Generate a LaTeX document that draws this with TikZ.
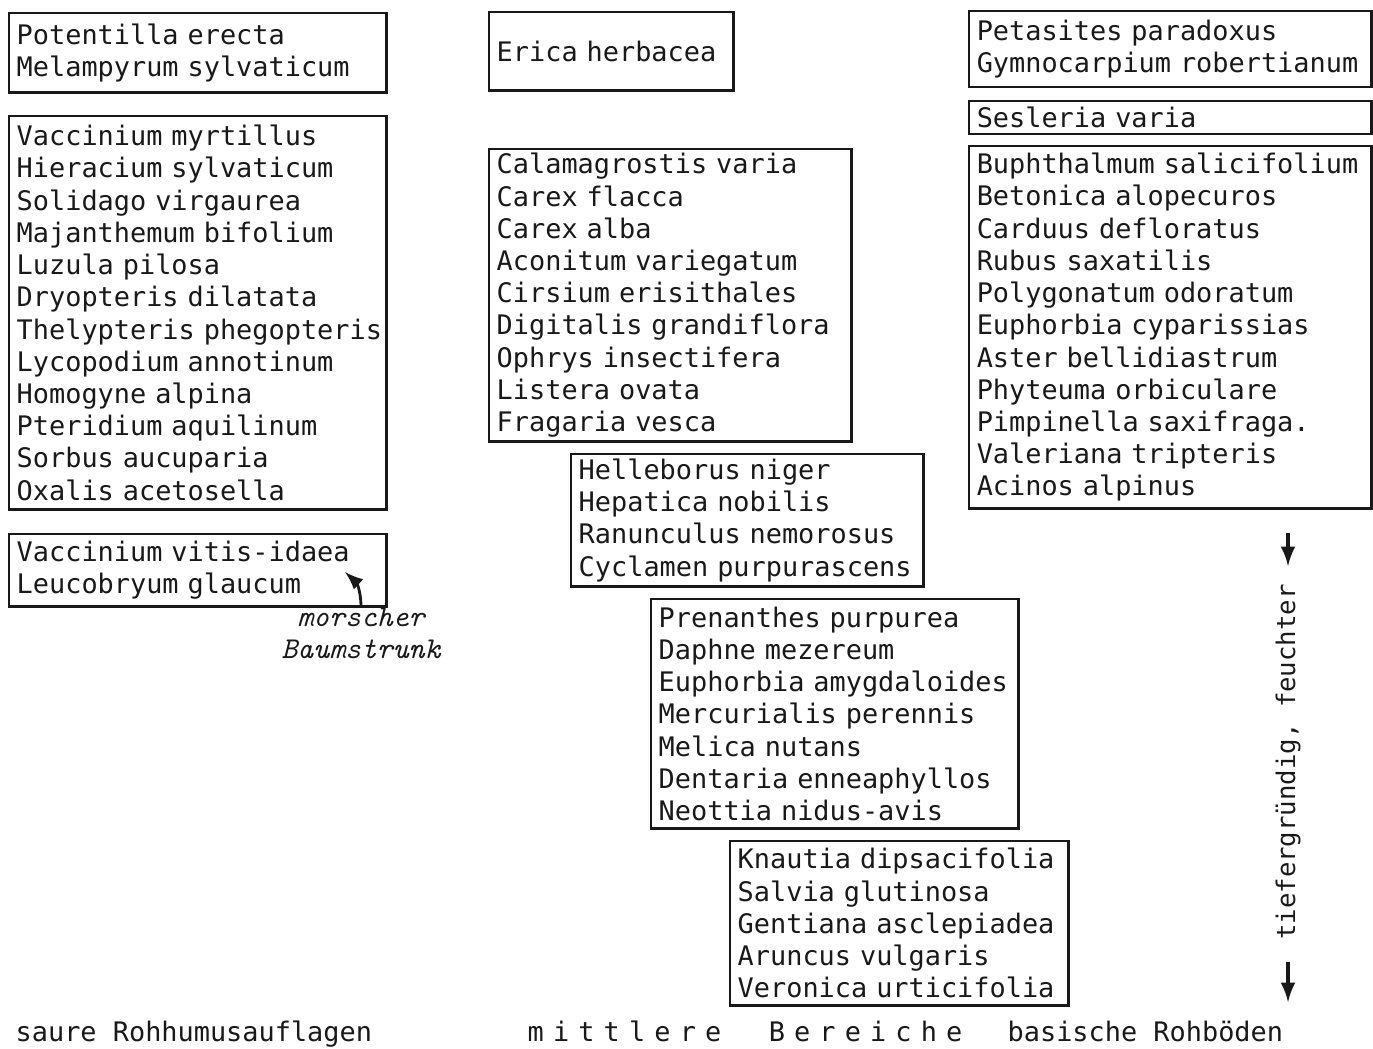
\documentclass[tikz,border=0pt]{standalone}
\usepackage{fontspec}
\usepackage{tikz}
\usetikzlibrary{arrows}
\newfontfamily\typewriter{DejaVu Sans Mono}
\newcommand\plantfont{\typewriter\fontsize{7.65}{9.16}\selectfont}
\colorlet{ink}{black!90}

\begin{document}
\begin{tikzpicture}[x=0.01cm,y=-0.01cm,
  pbox/.style 2 args={draw=ink,line width=0.7pt,anchor=north west,
    inner xsep=0pt,inner ysep=0pt,align=left,font=\plantfont,text=ink,
    text width=#1,minimum width=#1,minimum height=#2,
    execute at begin node={\leftskip=0.075cm\rightskip=0pt plus 1fil minus 1cm}},
  foot/.style={anchor=base west,inner sep=0pt,font=\plantfont,text=ink}]
\useasboundingbox (0,0) rectangle (1373,1049);
% saure Seite
\node[pbox={3.77cm}{0.79cm}] (potentilla) at (8,12) {Potentilla erecta\\Melampyrum sylvaticum};
\node[pbox={3.77cm}{3.93cm}] (vaccinium) at (8,115) {Vaccinium myrtillus\\Hieracium sylvaticum\\Solidago virgaurea\\Majanthemum bifolium\\Luzula pilosa\\Dryopteris dilatata\\Thelypteris phegopteris\\Lycopodium annotinum\\Homogyne alpina\\Pteridium aquilinum\\Sorbus aucuparia\\Oxalis acetosella};
\node[pbox={3.77cm}{0.72cm}] (vitis) at (8,533) {Vaccinium vitis-idaea\\Leucobryum glaucum};
\node[inner sep=0pt,align=center,text=ink,font=\ttfamily\itshape\fontsize{8.6}{9.1}\selectfont] (stump) at (361,633) {morscher\\Baumstrunk};
\coordinate (stumpend) at (345,572);
\draw[-latex,ink,line width=0.8pt] (stump.north) .. controls (361,590) and (356,582) .. (stumpend);
% mittlere Bereiche
\node[pbox={2.44cm}{0.78cm}] (erica) at (488,11) {Erica herbacea};
\node[pbox={3.62cm}{2.92cm}] (calamagrostis) at (488,148) {Calamagrostis varia\\Carex flacca\\Carex alba\\Aconitum variegatum\\Cirsium erisithales\\Digitalis grandiflora\\Ophrys insectifera\\Listera ovata\\Fragaria vesca};
\node[pbox={3.52cm}{1.32cm}] (helleborus) at (570,453) {Helleborus niger\\Hepatica nobilis\\Ranunculus nemorosus\\Cyclamen purpurascens};
\node[pbox={3.67cm}{2.29cm}] (prenanthes) at (650,598) {Prenanthes purpurea\\Daphne mezereum\\Euphorbia amygdaloides\\Mercurialis perennis\\Melica nutans\\Dentaria enneaphyllos\\Neottia nidus-avis};
\node[pbox={3.38cm}{1.64cm}] (knautia) at (729,840) {Knautia dipsacifolia\\Salvia glutinosa\\Gentiana asclepiadea\\Aruncus vulgaris\\Veronica urticifolia};
% basische Seite
\node[pbox={4.02cm}{0.76cm}] (petasites) at (968,10) {Petasites paradoxus\\Gymnocarpium robertianum};
\node[pbox={4.02cm}{0.33cm}] (sesleria) at (968,100) {Sesleria varia};
\node[pbox={4.02cm}{3.62cm}] (buphthalmum) at (968,145) {Buphthalmum salicifolium\\Betonica alopecuros\\Carduus defloratus\\Rubus saxatilis\\Polygonatum odoratum\\Euphorbia cyparissias\\Aster bellidiastrum\\Phyteuma orbiculare\\Pimpinella saxifraga.\\Valeriana tripteris\\Acinos alpinus};
% Gradient
\node[rotate=90,inner sep=0pt,text=ink,font=\typewriter\fontsize{7.3}{9}\selectfont] (gradient) at (1288,762) {tiefergründig, feuchter};
\coordinate (gtop) at (1288,533);
\coordinate (gbot) at (1288,1002);
\draw[-latex,ink,line width=0.9pt,shorten >=5pt] (gtop) -- (gradient.east);
\draw[-latex,ink,line width=0.9pt,shorten <=6pt] (gradient.west) -- (gbot);
% Achse unten
\node[foot] (acid) at (15,1041) {saure Rohhumusauflagen};
\node[foot,font=\plantfont\addfontfeatures{LetterSpace=34}] (middle) at (527,1041) {mittlere\hspace{13.5pt}Bereiche};
\node[foot] (basic) at (1007,1041) {basische Rohböden};
\end{tikzpicture}
\end{document}
